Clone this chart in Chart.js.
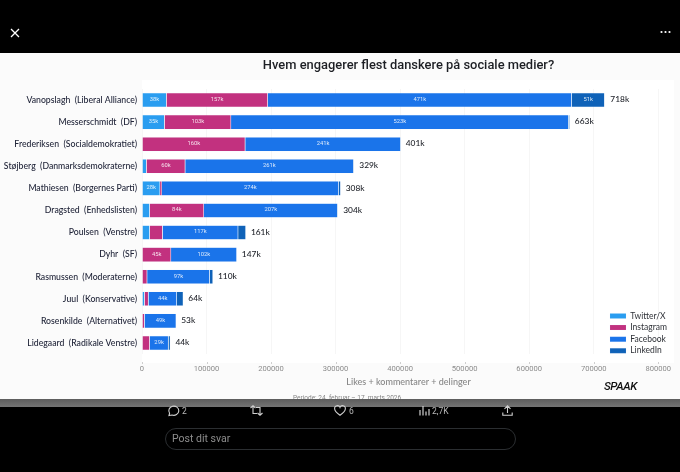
<!DOCTYPE html>
<html lang="da">
<head>
<meta charset="utf-8">
<style>
html,body{margin:0;padding:0;background:#000;width:680px;height:472px;overflow:hidden;font-family:Roboto,sans-serif}
.abs{position:absolute}
#panel{left:0;top:53px;width:680px;height:346px;background:#fbfbfb}
#band{left:0;top:399px;width:680px;height:8px;background:linear-gradient(#5d5d5d,#747474)}
#stage{left:0;top:0;width:680px;height:472px}
#period{left:293px;top:394px;font-size:6.5px;line-height:8px;color:#5b5b5b;opacity:.75;white-space:nowrap}
#logo{left:604px;top:379px;font:italic 500 11.5px/14px Roboto,sans-serif;letter-spacing:-.4px;color:#111}
.act{top:405px;font-size:8.5px;line-height:12px;color:#b9b9b9}
#box{left:165px;top:428px;width:349px;height:20px;border:1px solid #2b2e31;border-radius:11px}
#reply{left:172px;top:432px;font-size:10.5px;line-height:13px;color:#8d8d8d}
svg{position:absolute;overflow:visible}
</style>
</head>
<body>
<div class="abs" id="panel"></div>
<div class="abs" id="band"></div>
<div class="abs" id="stage"><canvas id="c" width="680" height="472" style="width:680px;height:472px;display:block"></canvas></div>
<div class="abs" id="period">Periode: 24. februar – 17. marts 2026</div>
<div class="abs" id="logo">SPAAK</div>

<svg style="left:10px;top:28px" width="10" height="10" stroke="#fff" stroke-width="1.3"><path d="M1 1L9 9M9 1L1 9"/></svg>
<svg style="left:660px;top:30px" width="11" height="4" fill="#fff"><circle cx="1.5" cy="2" r="1.1"/><circle cx="5.5" cy="2" r="1.1"/><circle cx="9.5" cy="2" r="1.1"/></svg>

<svg style="left:167px;top:405px" width="12" height="12" fill="none" stroke="#d0d0d0" stroke-width="1.1"><path d="M2 10.5L2.6 8.2A5 4.6 0 1 1 5 10Z"/></svg>
<div class="abs act" style="left:182px">2</div>
<svg style="left:250px;top:405px" width="13" height="11" fill="none" stroke="#d0d0d0" stroke-width="1.1"><path d="M0.5 3L3 .8 5.5 3M3 1V8.5H7M12.5 8L10 10.2 7.5 8M10 10V2.5H6"/></svg>
<svg style="left:334px;top:405px" width="12" height="11" fill="none" stroke="#d0d0d0" stroke-width="1.1"><path d="M6 10.3C2 7.5.6 5.6.6 3.6A2.8 2.8 0 0 1 6 2.4 2.8 2.8 0 0 1 11.4 3.6C11.4 5.6 10 7.5 6 10.3Z"/></svg>
<div class="abs act" style="left:349px">6</div>
<svg style="left:419px;top:405px" width="10" height="11" stroke="#d0d0d0" stroke-width="1.2"><path d="M1 10.5V5M4 10.5V1M7 10.5V6.5M10 10.5V4"/></svg>
<div class="abs act" style="left:432px">2,7K</div>
<svg style="left:502px;top:405px" width="11" height="11" fill="none" stroke="#d0d0d0" stroke-width="1.1"><path d="M5.5 8V1M2.5 3.8L5.5 .8 8.5 3.8M.8 7.5V10.3H10.2V7.5"/></svg>
<div class="abs" id="box"></div>
<div class="abs" id="reply">Post dit svar</div>

<script src="https://cdn.jsdelivr.net/npm/chart.js@4/dist/chart.umd.min.js"></script>
<script>
const politicians = [
  "Vanopslagh  (Liberal Alliance)",
  "Messerschmidt  (DF)",
  "Frederiksen  (Socialdemokratiet)",
  "Støjberg  (Danmarksdemokraterne)",
  "Mathiesen  (Borgernes Parti)",
  "Dragsted  (Enhedslisten)",
  "Poulsen  (Venstre)",
  "Dyhr  (SF)",
  "Rasmussen  (Moderaterne)",
  "Juul  (Konservative)",
  "Rosenkilde  (Alternativet)",
  "Lidegaard  (Radikale Venstre)"
];
const twitterX  = [38000, 35000, 0, 7000, 28000, 12000, 12000, 0, 0, 4000, 0, 0];
const instagram = [157000, 103000, 160000, 60000, 3000, 84000, 20000, 45000, 8000, 6000, 4000, 12000];
const facebook  = [471000, 523000, 241000, 261000, 274000, 207000, 117000, 102000, 97000, 44000, 49000, 29000];
const linkedin  = [51000, 2000, 0, 1000, 3000, 1000, 12000, 0, 5000, 10000, 0, 3000];
const totals    = ["718k", "663k", "401k", "329k", "308k", "304k", "161k", "147k", "110k", "64k", "53k", "44k"];
const totalValues = [718000, 663000, 401000, 329000, 308000, 304000, 161000, 147000, 110000, 64000, 53000, 44000];
const xTickValues = [0, 100000, 200000, 300000, 400000, 500000, 600000, 700000, 800000];
const chartTitle = "Hvem engagerer flest danskere på sociale medier?";
const xTitle = "Likes + kommentarer + delinger";

const FACE = 'Lato, Roboto, sans-serif';
const edge = "rgba(205,228,255,.3)";
const mk = (label, data, color) => ({label, data, backgroundColor: color, borderColor: edge, borderWidth: {left:0,top:.5,bottom:.5,right:.5}, borderSkipped: false, barPercentage: .66, categoryPercentage: 1});

const decor = {
  id: "decor",
  beforeDraw(chart) {
    const {ctx, chartArea: a} = chart;
    ctx.save();
    ctx.fillStyle = "#ffffff";
    ctx.fillRect(a.left, a.top - 9, a.right - a.left - 1, a.bottom - a.top + 18);
    ctx.restore();
  },
  afterLayout(chart) {
    const l = chart.legend;
    l.left = 606.9; l.right = 680; l.top = 308.6; l.bottom = 400;
  },
  afterDatasetsDraw(chart) {
    const {ctx, chartArea: a, scales: {x}} = chart;
    ctx.save();
    ctx.textBaseline = "middle";
    ctx.textAlign = "center";
    ctx.font = "5.8px Roboto, sans-serif";
    ctx.fillStyle = "rgba(255,255,255,.85)";
    chart.data.datasets.forEach((ds, i) => {
      chart.getDatasetMeta(i).data.forEach((bar, j) => {
        if (ds.data[j] >= 25000) {
          ctx.fillText(Math.round(ds.data[j] / 1000) + "k", (bar.base + bar.x) / 2, bar.y - .5);
        }
      });
    });
    const meta = chart.getDatasetMeta(0).data;
    ctx.textAlign = "left";
    ctx.font = "500 8.4px " + FACE;
    ctx.fillStyle = "#22252c";
    totals.forEach((t, j) => {
      ctx.fillText(t, x.getPixelForValue(totalValues[j]) + 5, meta[j].y - .5);
    });
    ctx.strokeStyle = "#cfcfcf";
    ctx.lineWidth = 1;
    x.ticks.forEach(t => {
      const px = Math.round(x.getPixelForValue(t.value)) + .5;
      ctx.beginPath();
      ctx.moveTo(px, a.bottom + 8);
      ctx.lineTo(px, a.bottom + 10);
      ctx.stroke();
    });
    ctx.restore();
  }
};

new Chart(document.getElementById("c"), {
  type: "bar",
  data: {
    labels: politicians,
    datasets: [
      mk("Twitter/X", twitterX, "#2a9df0"),
      mk("Instagram", instagram, "#c2317f"),
      mk("Facebook", facebook, "#1a74ea"),
      mk("LinkedIn", linkedin, "#0f62b8")
    ]
  },
  plugins: [decor],
  options: {
    indexAxis: "y",
    responsive: false,
    animation: false,
    layout: {padding: {top: 54, right: 5, bottom: 85, left: 0}},
    scales: {
      x: {
        stacked: true,
        min: 0,
        max: 826000,
        afterBuildTicks(s) { s.ticks = xTickValues.map(value => ({value})); },
        grid: {color: "#f6f6f6", drawTicks: false},
        border: {display: false},
        ticks: {maxRotation: 0, padding: 11, color: "#8c8c8c", font: {size: 7.6, family: "Roboto"}, callback: v => String(v)},
        title: {display: true, text: xTitle, color: "#868686", padding: 0, font: {size: 9, weight: "500", family: FACE}},
        afterFit(s) { s.height = 33; s.paddingLeft = 0; s.paddingRight = 0; }
      },
      y: {
        stacked: true,
        grid: {display: false, tickLength: 0},
        border: {display: false},
        ticks: {padding: 5, color: "#22263a", font: {size: 8.7, weight: "500", family: FACE}, autoSkip: false},
        afterFit(s) { s.width = 142; }
      }
    },
    plugins: {
      title: {display: true, text: chartTitle, fullSize: false, color: "#1d1f24", padding: {top: 3.6, bottom: 14.6}, font: {size: 12.9, weight: "500", family: "Roboto", lineHeight: 1.3}},
      legend: {display: true, position: "chartArea", align: "start", labels: {boxWidth: 16, boxHeight: 5, padding: 3.1, color: "#2f3238", font: {size: 8.5, family: FACE}}},
      tooltip: {enabled: false}
    }
  }
});
</script>
</body>
</html>
